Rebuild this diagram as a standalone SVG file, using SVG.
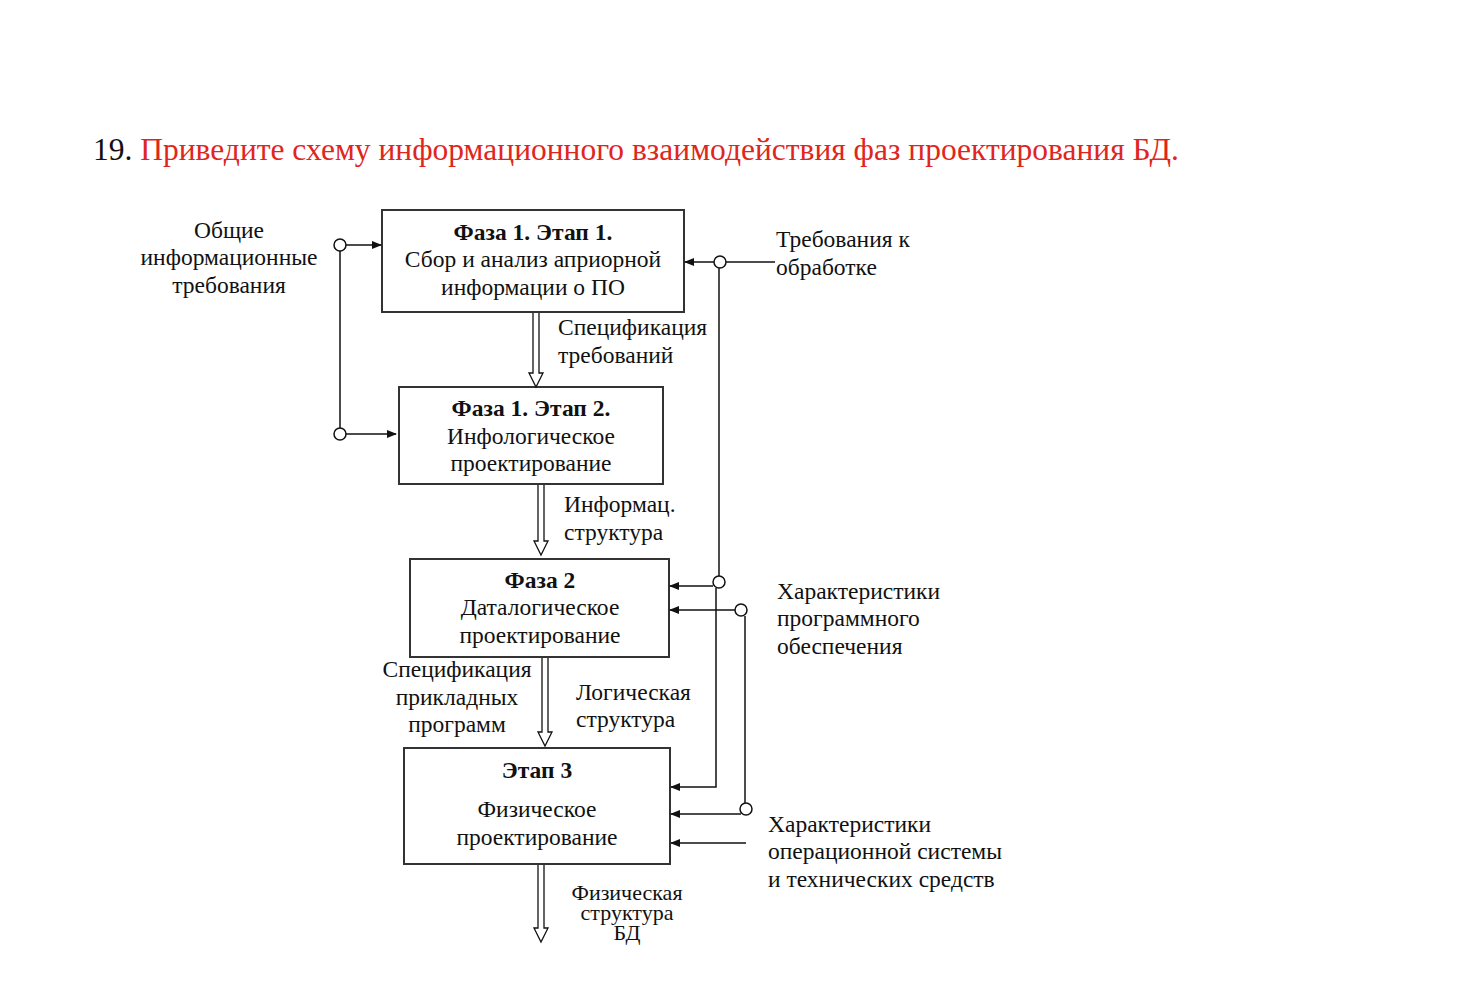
<svg xmlns="http://www.w3.org/2000/svg" width="1482" height="988" viewBox="0 0 1482 988">
<defs>
<style>
text{font-family:"Liberation Serif","Times New Roman",serif;font-size:23.5px;fill:#111}
.b{font-weight:bold}
.c{text-anchor:middle}
.box{fill:#fff;stroke:#333;stroke-width:2}
.ln{fill:none;stroke:#111;stroke-width:1.5}
.cir{fill:#fff;stroke:#111;stroke-width:1.5}
.hol{fill:#fff;stroke:#111;stroke-width:1.3}
.title{font-size:31.5px}
.sm{font-size:22px}
</style>
<marker id="ah" markerWidth="10" markerHeight="8" refX="9" refY="4" orient="auto" markerUnits="userSpaceOnUse">
<path d="M0,0 L10,4 L0,8 z" fill="#111"/>
</marker>
</defs>
<rect width="1482" height="988" fill="#fff"/>
<text class="title" x="93" y="160"><tspan fill="#111">19.</tspan><tspan fill="#e0261c"> Приведите схему информационного взаимодействия фаз проектирования БД.</tspan></text>

<g id="n1">
<rect class="box" x="382" y="210" width="302" height="102"/>
<text class="c b" x="533" y="240">Фаза 1. Этап 1.</text>
<text class="c" x="533" y="267">Сбор и анализ априорной</text>
<text class="c" x="533" y="295">информации о ПО</text>
</g>
<g id="n2">
<rect class="box" x="399" y="387" width="264" height="97"/>
<text class="c b" x="531" y="416">Фаза 1. Этап 2.</text>
<text class="c" x="531" y="444">Инфологическое</text>
<text class="c" x="531" y="471">проектирование</text>
</g>
<g id="n3">
<rect class="box" x="410" y="559" width="259" height="98"/>
<text class="c b" x="540" y="588">Фаза 2</text>
<text class="c" x="540" y="615">Даталогическое</text>
<text class="c" x="540" y="643">проектирование</text>
</g>
<g id="n4">
<rect class="box" x="404" y="748" width="266" height="116"/>
<text class="c b" x="537" y="778">Этап 3</text>
<text class="c" x="537" y="817">Физическое</text>
<text class="c" x="537" y="845">проектирование</text>
</g>

<g id="connectors">
<path class="hol" d="M533,313 V373 H529 L536,387 L543,373 H539 V313"/>
<path class="hol" d="M538,485 V541 H534 L541,555 L548,541 H544 V485"/>
<path class="hol" d="M542,658 V732 H538 L545,746 L552,732 H548 V658"/>
<path class="hol" d="M538,865 V928 H534 L541,942 L548,928 H544 V865"/>
<line class="ln" x1="346" y1="245" x2="381" y2="245" marker-end="url(#ah)"/>
<line class="ln" x1="340" y1="251" x2="340" y2="428"/>
<line class="ln" x1="346" y1="434" x2="396" y2="434" marker-end="url(#ah)"/>
<circle class="cir" cx="340" cy="245" r="6"/>
<circle class="cir" cx="340" cy="434" r="6"/>
<line class="ln" x1="775" y1="262" x2="726" y2="262"/>
<line class="ln" x1="714" y1="262" x2="685" y2="262" marker-end="url(#ah)"/>
<line class="ln" x1="719" y1="268" x2="719" y2="576"/>
<line class="ln" x1="713" y1="586" x2="670" y2="586" marker-end="url(#ah)"/>
<path class="ln" d="M716,588 V787 H671" marker-end="url(#ah)"/>
<circle class="cir" cx="720" cy="262" r="6"/>
<circle class="cir" cx="719" cy="582" r="6"/>
<line class="ln" x1="735" y1="610" x2="670" y2="610" marker-end="url(#ah)"/>
<line class="ln" x1="745" y1="616" x2="745" y2="803"/>
<line class="ln" x1="741" y1="814" x2="671" y2="814" marker-end="url(#ah)"/>
<circle class="cir" cx="741" cy="610" r="6"/>
<circle class="cir" cx="746" cy="809" r="6"/>
<line class="ln" x1="746" y1="843" x2="671" y2="843" marker-end="url(#ah)"/>
</g>

<g id="labels">
<text class="c" x="229" y="238">Общие</text>
<text class="c" x="229" y="265">информационные</text>
<text class="c" x="229" y="293">требования</text>
<text x="776" y="247">Требования к</text>
<text x="776" y="275">обработке</text>
<text x="558" y="335">Спецификация</text>
<text x="558" y="363">требований</text>
<text x="564" y="512">Информац.</text>
<text x="564" y="540">структура</text>
<text x="777" y="599">Характеристики</text>
<text x="777" y="626">программного</text>
<text x="777" y="654">обеспечения</text>
<text class="c" x="457" y="677">Спецификация</text>
<text class="c" x="457" y="705">прикладных</text>
<text class="c" x="457" y="732">программ</text>
<text x="576" y="700">Логическая</text>
<text x="576" y="727">структура</text>
<text x="768" y="832">Характеристики</text>
<text x="768" y="859">операционной системы</text>
<text x="768" y="887">и технических средств</text>
<text class="c sm" x="627" y="900">Физическая</text>
<text class="c sm" x="627" y="920">структура</text>
<text class="c sm" x="627" y="940">БД</text>
</g>
</svg>
